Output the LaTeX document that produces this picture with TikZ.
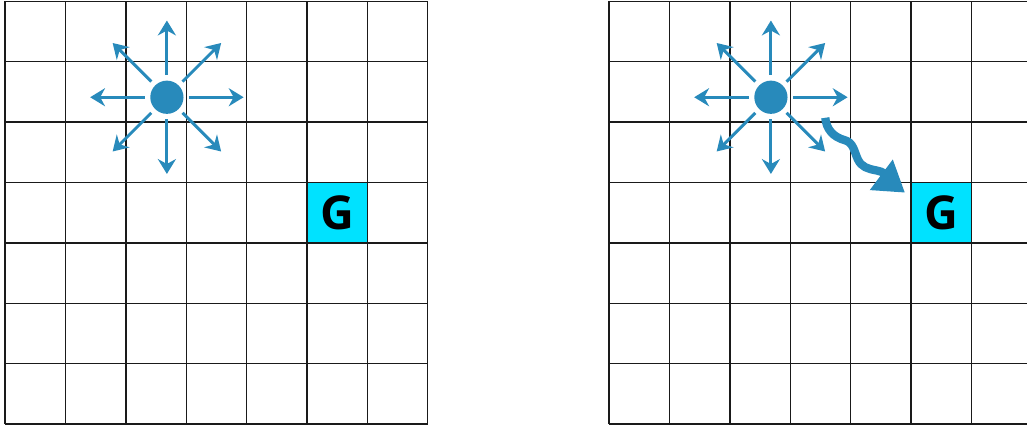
\documentclass[tikz,border=0pt]{standalone}
\usepackage{fontspec}
\setsansfont{Open Sans}
\usetikzlibrary{arrows.meta,calc}

\begin{document}
\begin{tikzpicture}[
    x=1cm, y=1cm,
    worldgrid/.style={draw=gridLine, line width=0.65pt},
    agent/.style={circle, fill=agentBlue, minimum size=0.55cm, inner sep=0pt, outer sep=0.09cm},
    goal/.style={rectangle, fill=goalCyan, minimum size=1cm, inner sep=0pt,
        font=\sffamily\bfseries\fontsize{22}{24}\selectfont},
    move/.style={-{Stealth[length=7pt, width=8.5pt, inset=2.3pt]}, line width=1.4pt, draw=agentBlue},
    slip/.style={-{Triangle[length=14pt, width=17pt]}, line width=3.9pt, draw=agentBlue}
]

    \definecolor{agentBlue}{HTML}{288ABB}
    \definecolor{goalCyan}{HTML}{00E2FF}
    \definecolor{gridLine}{HTML}{1A1A1A}

    \useasboundingbox (-0.083,-0.05) rectangle (16.92,7.02);

    % goal cells
    \node[goal] (goalL) at (5.5,3.5) {G};
    \node[goal] (goalR) at (15.5,3.5) {G};

    % the two grid worlds
    \draw[worldgrid] (0,0) grid (7,7);
    \draw[worldgrid] (10,0) grid (17,7);

    % agents
    \node[agent] (agentL) at (2.68,5.41) {};
    \node[agent] (agentR) at (12.68,5.41) {};

    % possible moves
    \foreach \a in {0,45,...,315} {
        \path (agentL) ++(\a:1.27) coordinate (tipL\a);
        \path (agentR) ++(\a:1.27) coordinate (tipR\a);
        \draw[move] (agentL) -- (tipL\a);
        \draw[move] (agentR) -- (tipR\a);
    }

    % stochastic slip towards the goal
    \coordinate (slipStart) at (13.58,5.07);
    \coordinate (slipEnd) at (14.90,3.83);
    \draw[slip] (slipStart) to[out=-85, in=165] (13.90,4.70)
        to[out=-15, in=115] (14.12,4.38)
        to[out=-65, in=170] (14.42,4.20)
        to[out=-10, in=143] (slipEnd);

\end{tikzpicture}
\end{document}
